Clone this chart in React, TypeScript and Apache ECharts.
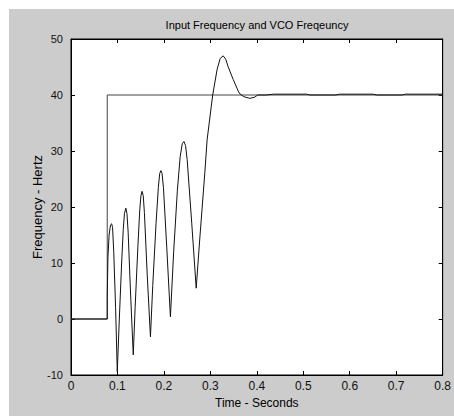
import React, { useEffect, useRef } from "react";
import * as echarts from "echarts";

const titleText = "Input Frequency and VCO Freqeuncy";
const xName = "Time - Seconds";
const yName = "Frequency - Hertz";

const xTicks = [0, 0.1, 0.2, 0.3, 0.4, 0.5, 0.6, 0.7, 0.8];
const yTicks = [-10, 0, 10, 20, 30, 40, 50];

// Input frequency (step)
const inputT = [0, 0.078, 0.078, 0.8];
const inputF = [0, 0, 40, 40];

// VCO frequency
const vcoT = [
  0, 0.078, 0.078, 0.0795, 0.082, 0.085, 0.0875, 0.0895, 0.092, 0.096, 0.0996,
  0.104, 0.109, 0.1125, 0.115, 0.118, 0.1205, 0.123, 0.128, 0.134,
  0.138, 0.144, 0.148, 0.1505, 0.153, 0.1555, 0.158, 0.164, 0.171,
  0.176, 0.183, 0.188, 0.191, 0.1935, 0.196, 0.199, 0.206, 0.214,
  0.221, 0.229, 0.235, 0.2395, 0.243, 0.2465, 0.25, 0.26, 0.2695,
  0.277, 0.288, 0.293, 0.305, 0.3146, 0.321, 0.3275, 0.333, 0.338, 0.349, 0.36,
  0.3635, 0.372, 0.385, 0.395, 0.402, 0.42, 0.436, 0.507, 0.515, 0.57, 0.578,
  0.65, 0.658, 0.712, 0.72, 0.8,
];
const vcoF = [
  0, 0, 4, 11, 15, 16.8, 17, 16.3, 12, 2, -9.4,
  0, 10, 16, 18.8, 19.8, 18.8, 15.5, 5, -6.4,
  2, 13, 19.5, 22, 22.8, 22, 19, 8, -3.2,
  6, 17, 23.5, 26, 26.5, 26, 23.5, 13, 0.4,
  12, 23, 29, 31.3, 31.7, 31, 28.5, 17, 5.5,
  14.1, 26.1, 32, 40, 44.6, 46.5, 47, 46.4, 45.1, 42.8, 40.7,
  40.2, 39.7, 39.4, 39.6, 40, 40, 40.15, 40.15, 40, 40, 40.15,
  40.15, 40, 40, 40.15, 40.15,
];

const font = "Liberation Sans, Arial, sans-serif";

export default function App() {
  const ref = useRef<HTMLDivElement>(null);
  useEffect(() => {
    if (!ref.current) return;
    const chart = echarts.init(ref.current, undefined, { renderer: "svg" });
    const fmt = (v: number) => String(Math.round(v * 10) / 10);
    const baseX = {
      type: "value" as const,
      min: xTicks[0],
      max: xTicks[xTicks.length - 1],
      interval: 0.1,
      splitLine: { show: false },
      axisLine: { show: true, onZero: false, lineStyle: { color: "#000", width: 1 } },
      axisTick: { show: true, inside: true, length: 4, lineStyle: { color: "#000" } },
    };
    const baseY = {
      type: "value" as const,
      min: yTicks[0],
      max: yTicks[yTicks.length - 1],
      interval: 10,
      splitLine: { show: false },
      axisLine: { show: true, onZero: false, lineStyle: { color: "#000", width: 1 } },
      axisTick: { show: true, inside: true, length: 4, lineStyle: { color: "#000" } },
    };
    chart.setOption({
      animation: false,
      backgroundColor: "#cccccc",
      grid: {
        left: 62,
        right: 11,
        top: 30,
        bottom: 41,
        show: true,
        backgroundColor: "#ffffff",
        borderColor: "#000",
        borderWidth: 1,
      },
      graphic: [
        {
          type: "text",
          x: 248,
          y: 16,
          style: {
            text: titleText,
            align: "center",
            verticalAlign: "middle",
            fontSize: 11,
            fontFamily: font,
            fill: "#000",
          },
        },
      ],
      xAxis: [
        {
          ...baseX,
          position: "bottom",
          axisLabel: { show: true, formatter: fmt, margin: 5, fontSize: 12, fontFamily: font, color: "#111" },
          name: xName,
          nameLocation: "middle",
          nameGap: 22,
          nameMoveOverlap: false,
          nameTextStyle: { fontSize: 12, fontFamily: font, color: "#000" },
        },
        { ...baseX, position: "top", axisLabel: { show: false } },
      ],
      yAxis: [
        {
          ...baseY,
          position: "left",
          axisLabel: { show: true, margin: 8, fontSize: 11, fontFamily: font, color: "#111" },
          name: yName,
          nameLocation: "middle",
          nameGap: 27,
          nameMoveOverlap: false,
          nameTextStyle: { fontSize: 13, fontFamily: font, color: "#000" },
        },
        { ...baseY, position: "right", axisLabel: { show: false } },
      ],
      series: [
        {
          type: "line",
          name: "Input",
          data: inputT.map((t, i) => [t, inputF[i]]),
          showSymbol: false,
          symbol: "none",
          lineStyle: { color: "#444", width: 1 },
          xAxisIndex: 0,
          yAxisIndex: 0,
        },
        {
          type: "line",
          name: "VCO",
          data: vcoT.map((t, i) => [t, vcoF[i]]),
          showSymbol: false,
          symbol: "none",
          lineStyle: { color: "#111", width: 1 },
          xAxisIndex: 0,
          yAxisIndex: 0,
        },
      ],
    });
    return () => chart.dispose();
  }, []);
  return (
    <div
      ref={ref}
      style={{ position: "absolute", left: 9, top: 9, width: 445, height: 407 }}
    />
  );
}
